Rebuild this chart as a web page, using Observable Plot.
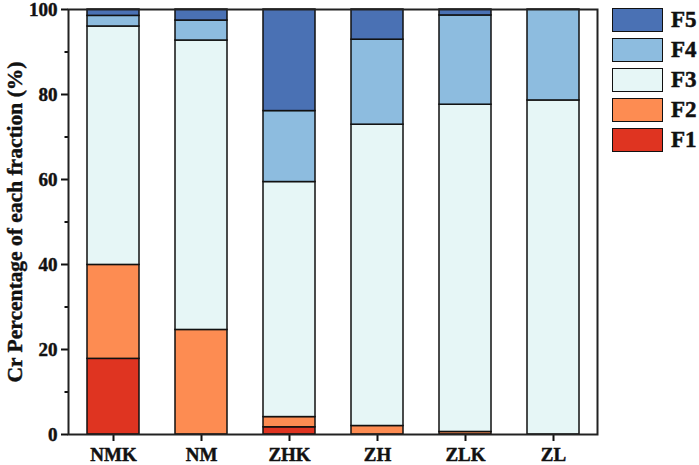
<!DOCTYPE html>
<html>
<head>
<meta charset="utf-8">
<script src="https://cdn.jsdelivr.net/npm/d3@7"></script>
<script src="https://cdn.jsdelivr.net/npm/@observablehq/plot@0.6"></script>
<style>
  html, body { margin: 0; padding: 0; background: #fff; }
  #wrap { position: relative; width: 699px; height: 465px; font-family: "Liberation Serif", "Times New Roman", serif; }
  #legend { position: absolute; left: 612px; top: 8px; }
  .row { display: flex; align-items: center; height: 24px; margin-bottom: 6px; }
  .sw { width: 49px; height: 22px; border: 1.5px solid #111; box-sizing: content-box; }
  .lab { margin-left: 8px; font-weight: bold; font-size: 23px; color: #111; line-height: 24px; -webkit-text-stroke: 0.5px #111; }
  #chart svg text { font-size: 19px; font-weight: bold; stroke: #111; stroke-width: 0.45px; }
  #chart svg g[aria-label="y-axis label"] text { font-size: 21.5px; }
</style>
</head>
<body>
<div id="wrap"><div id="chart"></div><div id="legend"></div></div>
<script>
const sites = ["NMK", "NM", "ZHK", "ZH", "ZLK", "ZL"];
const fractions = ["F1", "F2", "F3", "F4", "F5"];
const colors = ["#df3421", "#fd8c52", "#e6f6f6", "#8dbcdf", "#4a71b4"];
// values per site, ordered F1..F5 (%)
const F1 = [17.8, 0, 1.7, 0, 0, 0];
const F2 = [22.1, 24.6, 2.4, 2.0, 0.6, 0];
const F3 = [56.1, 68.1, 55.3, 70.9, 77.0, 78.6];
const F4 = [2.5, 4.7, 16.7, 20.0, 21.0, 21.4];
const F5 = [1.5, 2.6, 23.9, 7.1, 1.4, 0];
const yTicks = [0, 20, 40, 60, 80, 100];
const yMinor = [10, 30, 50, 70, 90];

const series = [F1, F2, F3, F4, F5];
const data = [];
sites.forEach((s, i) => {
  fractions.forEach((f, j) => {
    if (series[j][i] > 0) data.push({site: s, fraction: f, value: series[j][i]});
  });
});

const font = "Liberation Serif, Times New Roman, serif";
const chart = Plot.plot({
  width: 699,
  height: 465,
  marginLeft: 68,
  marginRight: 102,
  marginTop: 9,
  marginBottom: 31,
  style: {fontFamily: font, fontWeight: "bold", fontSize: "19px", color: "#111", background: "#fff", overflow: "visible"},
  x: {type: "band", domain: sites, paddingInner: 0.41, paddingOuter: 0.205},
  y: {domain: [0, 100]},
  color: {domain: fractions, range: colors},
  marks: [
    Plot.barY(data, {x: "site", y: "value", fill: "fraction", stroke: "#111", strokeWidth: 1.5, order: fractions}),
    Plot.axisY({ticks: yTicks, tickSize: 7, tickPadding: 4, fontSize: 19, fontWeight: "bold", strokeWidth: 2,
      label: "Cr Percentage of each fraction (%)", labelAnchor: "center", labelArrow: "none", labelOffset: 62}),
    Plot.axisY({ticks: yMinor, tickSize: 3.5, text: null, label: null, strokeWidth: 2}),
    Plot.axisX({tickSize: 7, tickPadding: 6, fontSize: 19, fontWeight: "bold", label: null, strokeWidth: 2}),
    Plot.frame({stroke: "#222", strokeWidth: 2})
  ]
});
document.getElementById("chart").appendChild(chart);

const legend = document.getElementById("legend");
fractions.slice().reverse().forEach(f => {
  const row = document.createElement("div");
  row.className = "row";
  const sw = document.createElement("div");
  sw.className = "sw";
  sw.style.background = colors[fractions.indexOf(f)];
  const lab = document.createElement("div");
  lab.className = "lab";
  lab.textContent = f;
  row.appendChild(sw);
  row.appendChild(lab);
  legend.appendChild(row);
});
</script>
</body>
</html>
